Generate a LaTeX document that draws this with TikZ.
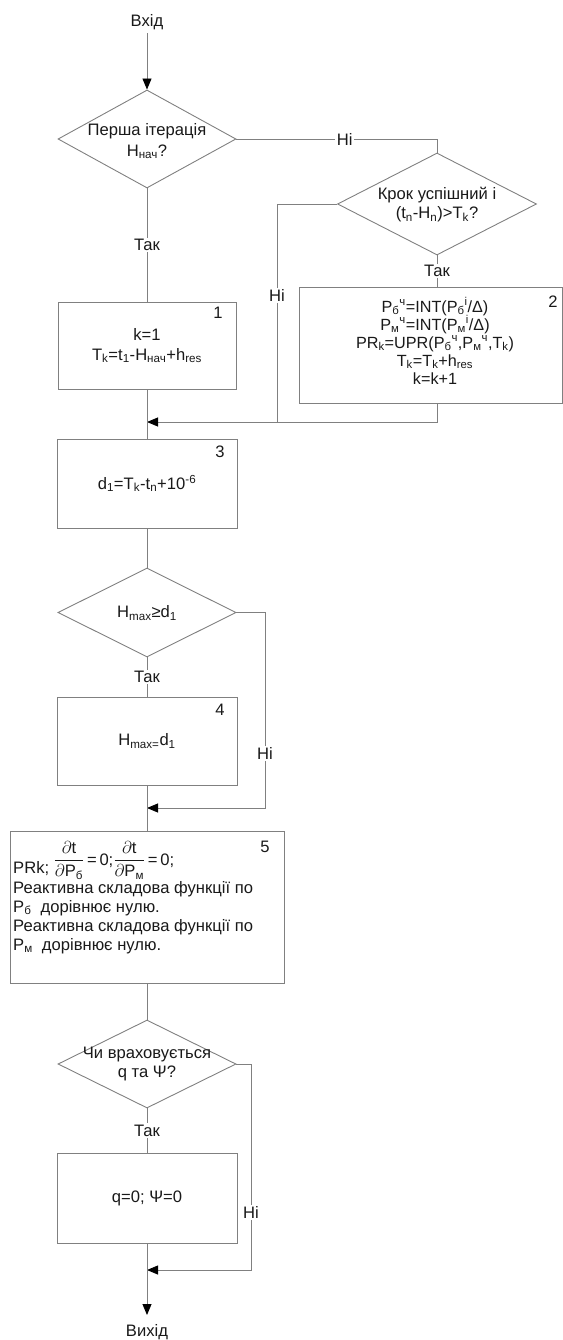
\documentclass[tikz,border=0pt]{standalone}
\usepackage{fontspec}
\setmainfont{Liberation Sans}
\usepackage{amsmath}
\usetikzlibrary{shapes.geometric,arrows.meta}
\definecolor{ln}{RGB}{128,128,128}
\definecolor{tx}{RGB}{25,25,25}
\tikzset{
 txtst/.style={font=\fontsize{16.6}{19}\selectfont, text=tx},
 boxst/.style={draw=ln, line width=0.9pt, rectangle, inner sep=0pt, align=center, txtst},
 diast/.style={draw=ln, line width=0.9pt, diamond, inner sep=0pt},
 dtext/.style={txtst, align=center, inner sep=0pt},
 lbl/.style={txtst, fill=white, inner sep=1.5pt},
 num/.style={txtst, inner sep=0pt},
 lineb/.style={txtst, anchor=base west, inner sep=0pt},
 conn/.style={draw=ln, line width=0.9pt},
 arr/.style={conn, -{Triangle[width=9pt,length=11pt,color=black]}},
}
\begin{document}
\begin{tikzpicture}[x=1pt,y=-1pt]
\useasboundingbox (0,0) rectangle (562,1340);
% nodes
\node[txtst] (in) at (147,22) {Вхід};
\node[diast, minimum width=178pt, minimum height=98pt] (d1) at (147,139) {};
\node[dtext] (d1t) at (147,141) {Перша ітерація\\[2pt]H\textsubscript{нач}?};
\node[diast, minimum width=199pt, minimum height=102pt] (d2) at (437,204) {};
\node[dtext] (d2t) at (437,205) {Крок успішний і\\(t\textsubscript{n}-H\textsubscript{n})>T\textsubscript{k}?};
\node[boxst, minimum width=178pt, minimum height=87pt] (b1) at (147,345.5) {k=1\\[1pt]T\textsubscript{k}=t\textsubscript{1}-H\textsubscript{нач}+h\textsubscript{res}};
\node[num] (n1) at (218,313) {1};
\node[boxst, minimum width=263pt, minimum height=116pt] (b2) at (430.5,345) {};
\node[txtst, align=center, inner sep=0pt, font=\fontsize{16.2}{18}\selectfont] (b2t) at (435,341) {P\textsubscript{б}\textsuperscript{ч}=INT(P\textsubscript{б}\textsuperscript{i}/Δ)\\P\textsubscript{м}\textsuperscript{ч}=INT(P\textsubscript{м}\textsuperscript{i}/Δ)\\PR\textsubscript{k}=UPR(P\textsubscript{б}\textsuperscript{ч},P\textsubscript{м}\textsuperscript{ч},T\textsubscript{k})\\T\textsubscript{k}=T\textsubscript{k}+h\textsubscript{res}\\k=k+1};
\node[num] (n2) at (553,302) {2};
\node[boxst, minimum width=180pt, minimum height=89pt] (b3) at (147,483.5) {d\textsubscript{1}=T\textsubscript{k}-t\textsubscript{n}+10\textsuperscript{-6}};
\node[num] (n3) at (220,452) {3};
\node[diast, minimum width=178pt, minimum height=89pt] (d3) at (147,612.5) {};
\node[dtext] (d3t) at (147,613) {H\textsubscript{max}≥d\textsubscript{1}};
\node[boxst, minimum width=180pt, minimum height=88pt] (b4) at (147,741) {H\textsubscript{max=}d\textsubscript{1}};
\node[num] (n4) at (220,710) {4};
\node[boxst, minimum width=274pt, minimum height=152pt] (b5) at (147,907) {};
\node[num] (n5) at (265,847) {5};
\node[lineb] (b5a) at (13,873) {PRk; \raisebox{8pt}{$\displaystyle\frac{\partial \mathrm{t}}{\partial \mathrm{P}_{\text{б}}}\text{\,=\,0;}\frac{\partial\mathrm{t}}{\partial \mathrm{P}_{\text{м}}}\text{\,=\,0;}$}};
\node[lineb] (b5b) at (13,893) {Реактивна складова функції по};
\node[lineb] (b5c) at (13,912) {P\textsubscript{б}\ \ дорівнює нулю.};
\node[lineb] (b5d) at (13,931) {Реактивна складова функції по};
\node[lineb] (b5e) at (13,950) {P\textsubscript{м}\ \ дорівнює нулю.};
\node[diast, minimum width=178pt, minimum height=88pt] (d4) at (147,1064) {};
\node[dtext] (d4t) at (147,1064) {Чи враховується\\q та Ψ?};
\node[boxst, minimum width=180pt, minimum height=90pt] (b6) at (147,1198) {q=0; Ψ=0};
\node[txtst] (outt) at (147,1332) {Вихід};
% coordinates
\coordinate (j1) at (147,422);
\coordinate (k1) at (277,422);
\coordinate (j2) at (147,808);
\coordinate (c2) at (265,808);
\coordinate (j3) at (147,1270);
\coordinate (c3) at (251,1270);
\coordinate (out) at (147,1315);
% connectors
\draw[arr] (in) -- (d1.north);
\draw[conn] (d1.south) -- node[lbl]{Так} (b1.north);
\draw[conn] (d1.east) -| node[lbl,pos=0.27]{Ні} (d2.north);
\draw[conn] (d2.south) -- node[lbl]{Так} (d2.south |- b2.north);
\draw[conn] (d2.west) -| node[lbl,pos=0.71]{Ні} (k1);
\draw[arr] (d2.south |- b2.south) |- (j1);
\draw[conn] (b1.south) -- (b3.north);
\draw[conn] (b3.south) -- (d3.north);
\draw[conn] (d3.south) -- node[lbl]{Так} (b4.north);
\draw[arr] (d3.east) -| node[lbl,pos=0.86]{Ні} (c2) -- (j2);
\draw[conn] (b4.south) -- (b5.north);
\draw[conn] (b5.south) -- (d4.north);
\draw[conn] (d4.south) -- node[lbl]{Так} (b6.north);
\draw[arr] (d4.east) -| node[lbl,pos=0.86]{Ні} (c3) -- (j3);
\draw[arr] (b6.south) -- (out);
\end{tikzpicture}
\end{document}
